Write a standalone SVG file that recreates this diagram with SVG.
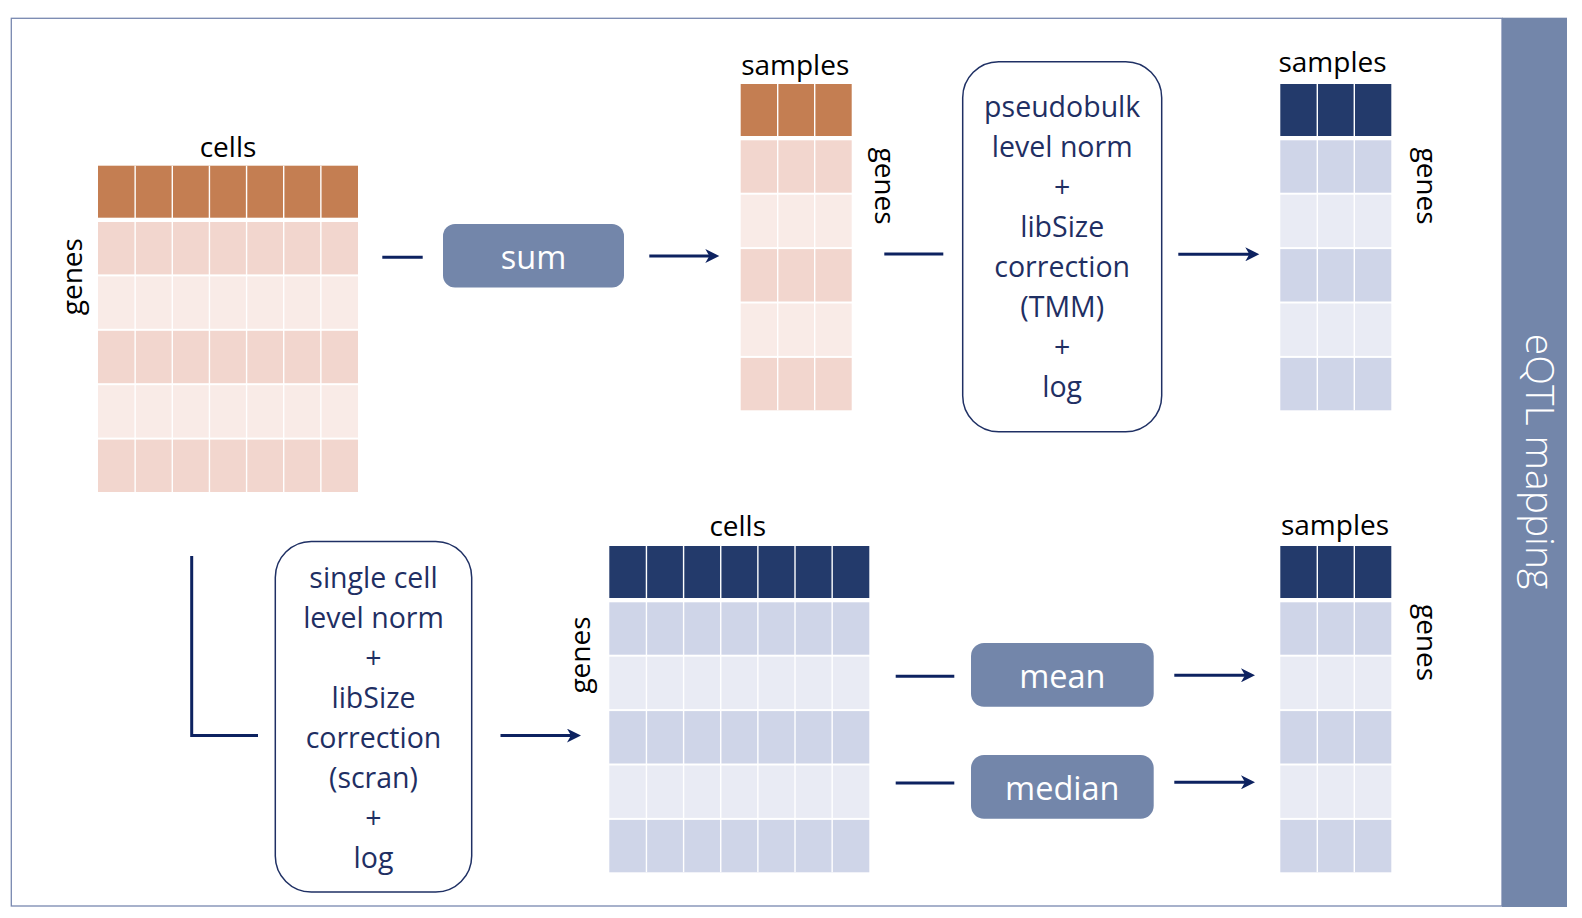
<svg xmlns="http://www.w3.org/2000/svg" width="1582" height="918" viewBox="0 0 1582 918">
<defs>
<style>
.lbl{font-family:"Open Sans","Noto Sans","DejaVu Sans",sans-serif;font-size:28px;fill:#000}
.mid{text-anchor:middle}
.box{font-family:"Open Sans","Noto Sans","DejaVu Sans",sans-serif;font-size:28.5px;fill:#1f2f63;text-anchor:middle}
.btn{font-family:"Open Sans","Noto Sans","DejaVu Sans",sans-serif;font-size:32.5px;fill:#fff;text-anchor:middle}
.pill{fill:#7386aa}
.card{fill:#fff;stroke:#1f3064;stroke-width:1.5}
.conn{stroke:#0d2260;stroke-width:3;fill:none}
.arr{marker-end:url(#ah)}
.oh{fill:#c47e52}.od{fill:#f2d6ce}.ol{fill:#f9ebe7}
.bh{fill:#233a6b}.bd{fill:#cfd5e8}.bl{fill:#e9ebf4}
.sep{stroke:#fff;stroke-width:1.4}
</style>
<marker id="ah" markerUnits="userSpaceOnUse" markerWidth="16" markerHeight="14" refX="6" refY="7" orient="auto">
<path d="M0,0 L14,7 L0,14 L4,7 Z" fill="#0d2260"/>
</marker>
</defs>
<rect x="0" y="0" width="1582" height="918" fill="#fff"/>
<g id="frame">
<rect x="11.3" y="18.3" width="1490.7" height="887.7" fill="#fff" stroke="#7888b0" stroke-width="1.3"/>
<rect x="1502" y="17.7" width="65" height="889.3" fill="#7386aa"/>
<text transform="translate(1525.5,461.5) rotate(90)" font-family="'Open Sans','Noto Sans',sans-serif" font-size="39" font-weight="300" fill="#fff" text-anchor="middle">eQTL mapping</text>
</g>

<g id="matrix-cells-raw" transform="translate(98,165.7)">
<rect class="oh" x="0" y="0" width="260" height="52"/>
<rect class="od" x="0" y="56.3" width="260" height="52.4"/>
<rect class="ol" x="0" y="110.7" width="260" height="52.4"/>
<rect class="od" x="0" y="165.1" width="260" height="52.4"/>
<rect class="ol" x="0" y="219.5" width="260" height="52.4"/>
<rect class="od" x="0" y="273.9" width="260" height="52.4"/>
<path class="sep" d="M37.14,0V326.3M74.29,0V326.3M111.43,0V326.3M148.57,0V326.3M185.71,0V326.3M222.86,0V326.3"/>
<text class="lbl mid" x="130" y="-9.2">cells</text>
<text class="lbl mid" transform="translate(-16,111) rotate(-90)">genes</text>
</g>

<g id="sum">
<rect class="pill" x="443" y="224" width="181" height="63.5" rx="12"/>
<text class="btn" x="533.5" y="269">sum</text>
</g>

<g id="matrix-samples-raw" transform="translate(740.7,84)">
<rect class="oh" x="0" y="0" width="111" height="52"/>
<rect class="od" x="0" y="56.3" width="111" height="52.4"/>
<rect class="ol" x="0" y="110.7" width="111" height="52.4"/>
<rect class="od" x="0" y="165.1" width="111" height="52.4"/>
<rect class="ol" x="0" y="219.5" width="111" height="52.4"/>
<rect class="od" x="0" y="273.9" width="111" height="52.4"/>
<path class="sep" d="M37,0V326.3M74,0V326.3"/>
<text class="lbl mid" x="54.5" y="-9">samples</text>
<text class="lbl mid" transform="translate(134.3,102) rotate(90)">genes</text>
</g>

<g id="pseudobulk-norm">
<rect class="card" x="962.7" y="61.7" width="199" height="370" rx="36"/>
<text class="box" x="1062.2" y="116.5">pseudobulk</text>
<text class="box" x="1062.2" y="156.5">level norm</text>
<text class="box" x="1062.2" y="196.5">+</text>
<text class="box" x="1062.2" y="236.5">libSize</text>
<text class="box" x="1062.2" y="276.5">correction</text>
<text class="box" x="1062.2" y="316.5">(TMM)</text>
<text class="box" x="1062.2" y="356.5">+</text>
<text class="box" x="1062.2" y="396.5">log</text>
</g>

<g id="matrix-samples-pseudobulk" transform="translate(1280.3,84)">
<rect class="bh" x="0" y="0" width="111" height="52"/>
<rect class="bd" x="0" y="56.3" width="111" height="52.4"/>
<rect class="bl" x="0" y="110.7" width="111" height="52.4"/>
<rect class="bd" x="0" y="165.1" width="111" height="52.4"/>
<rect class="bl" x="0" y="219.5" width="111" height="52.4"/>
<rect class="bd" x="0" y="273.9" width="111" height="52.4"/>
<path class="sep" d="M37,0V326.3M74,0V326.3"/>
<text class="lbl mid" x="52.2" y="-12">samples</text>
<text class="lbl mid" transform="translate(136.2,102) rotate(90)">genes</text>
</g>

<g id="singlecell-norm">
<rect class="card" x="275.3" y="541.5" width="196.4" height="350.5" rx="36"/>
<text class="box" x="373.5" y="588">single cell</text>
<text class="box" x="373.5" y="628">level norm</text>
<text class="box" x="373.5" y="668">+</text>
<text class="box" x="373.5" y="708">libSize</text>
<text class="box" x="373.5" y="748">correction</text>
<text class="box" x="373.5" y="788">(scran)</text>
<text class="box" x="373.5" y="828">+</text>
<text class="box" x="373.5" y="868">log</text>
</g>

<g id="matrix-cells-norm" transform="translate(609.3,546)">
<rect class="bh" x="0" y="0" width="260" height="52"/>
<rect class="bd" x="0" y="56.3" width="260" height="52.4"/>
<rect class="bl" x="0" y="110.7" width="260" height="52.4"/>
<rect class="bd" x="0" y="165.1" width="260" height="52.4"/>
<rect class="bl" x="0" y="219.5" width="260" height="52.4"/>
<rect class="bd" x="0" y="273.9" width="260" height="52.4"/>
<path class="sep" d="M37.14,0V326.3M74.29,0V326.3M111.43,0V326.3M148.57,0V326.3M185.71,0V326.3M222.86,0V326.3"/>
<text class="lbl mid" x="128.4" y="-10">cells</text>
<text class="lbl mid" transform="translate(-19.3,109) rotate(-90)">genes</text>
</g>

<g id="mean">
<rect class="pill" x="971" y="643" width="182.7" height="63.7" rx="13"/>
<text class="btn" x="1062.3" y="688.3">mean</text>
</g>
<g id="median">
<rect class="pill" x="971" y="755" width="182.7" height="63.7" rx="13"/>
<text class="btn" x="1062.3" y="800">median</text>
</g>

<g id="matrix-samples-singlecell" transform="translate(1280.3,546)">
<rect class="bh" x="0" y="0" width="111" height="52"/>
<rect class="bd" x="0" y="56.3" width="111" height="52.4"/>
<rect class="bl" x="0" y="110.7" width="111" height="52.4"/>
<rect class="bd" x="0" y="165.1" width="111" height="52.4"/>
<rect class="bl" x="0" y="219.5" width="111" height="52.4"/>
<rect class="bd" x="0" y="273.9" width="111" height="52.4"/>
<path class="sep" d="M37,0V326.3M74,0V326.3"/>
<text class="lbl mid" x="54.7" y="-11">samples</text>
<text class="lbl mid" transform="translate(136.2,96.5) rotate(90)">genes</text>
</g>

<g id="connectors">
<path class="conn" d="M382.3,257.3H422.7"/>
<path class="conn arr" d="M649.3,256H711.3"/>
<path class="conn" d="M884.3,254H943.3"/>
<path class="conn arr" d="M1178.3,254.3H1251.3"/>
<path class="conn" d="M191.7,556V735.5H258"/>
<path class="conn arr" d="M500.5,735.6H573"/>
<path class="conn" d="M895.7,676.3H954.3"/>
<path class="conn" d="M895.7,783H954.3"/>
<path class="conn arr" d="M1174.3,675.3H1247"/>
<path class="conn arr" d="M1174.3,782.3H1247"/>
</g>
</svg>
